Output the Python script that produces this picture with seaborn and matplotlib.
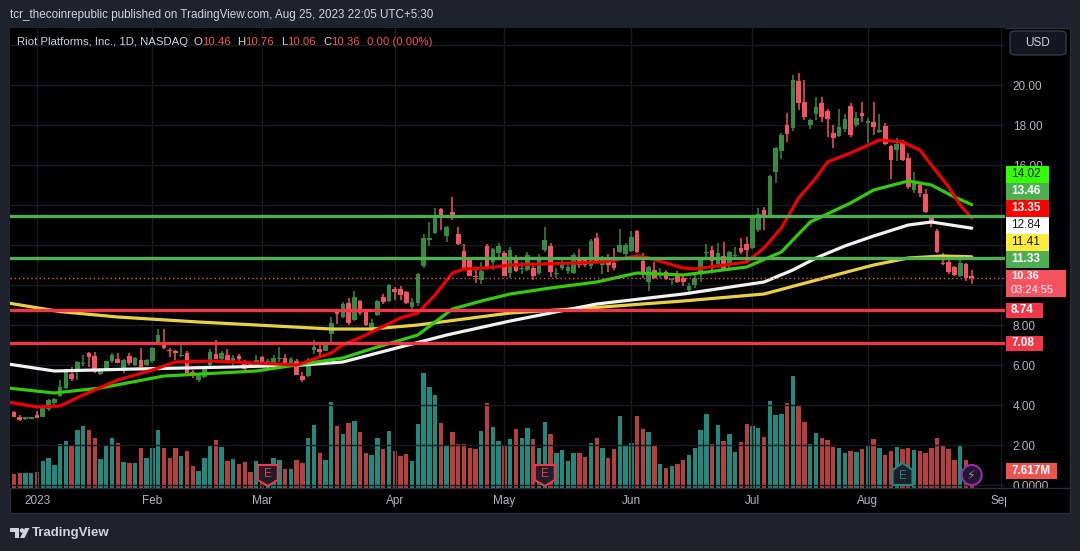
import matplotlib
matplotlib.use("Agg")
import matplotlib.pyplot as plt
from matplotlib.patches import Rectangle, Polygon, Ellipse, FancyBboxPatch
from matplotlib.lines import Line2D
import seaborn as sns

# =====================================================
# DATA  (x = trading day index, 0 = Jan 3 2023)
# =====================================================

idx = list(range(-5, 163))

opens = [3.83, 3.67, 3.42, 3.30, 3.32,
         # Jan
         3.50, 3.42, 3.78, 4.08, 4.47, 4.83, 5.53, 5.67, 6.05, 6.58,
         6.45, 5.55, 5.75, 6.22, 6.28, 5.75, 6.45, 6.00, 6.25, 6.00,
         # Feb
         6.22, 7.12, 7.10, 6.72, 6.70, 6.45, 6.62, 5.63, 5.25, 5.38,
         6.00, 6.55, 6.28, 6.50, 6.17, 6.45, 6.17, 6.02, 5.98,
         # Mar
         6.38, 5.95, 5.97, 6.30, 6.33, 6.10, 6.20, 5.45, 5.45, 6.75,
         6.80, 6.72, 7.55, 8.60, 8.40, 9.08, 8.25, 9.20, 8.75, 7.87,
         8.50, 9.40, 9.20,
         # Apr
         9.80, 9.80, 9.67, 8.92, 9.08, 10.95, 12.25, 12.62, 13.80, 12.47,
         13.63, 12.53, 11.70, 11.30, 10.47, 10.25, 11.95, 11.17, 11.58,
         # May
         11.60, 10.58, 11.37, 10.80, 10.75, 10.87, 10.58, 11.75, 11.95, 10.55,
         10.83, 10.70, 10.62, 11.25, 11.25, 10.97, 12.37, 11.00, 11.33, 11.08,
         11.67, 11.53,
         # Jun
         11.70, 12.70, 11.20, 10.13, 10.75, 10.48, 10.67, 10.23, 10.53, 10.33,
         9.75, 10.00, 10.53, 11.60, 11.75, 11.03, 11.45, 11.00, 11.45, 11.87,
         12.05,
         # Jul
         11.87, 12.75, 13.75, 13.42, 15.67, 16.70, 18.00, 17.83, 20.20, 19.13,
         18.00, 18.55, 19.08, 18.70, 17.58, 17.47, 17.80, 18.95, 18.00, 18.62,
         # Aug
         18.08, 18.15, 17.67, 17.95, 16.95, 16.75, 17.20, 16.33, 14.75, 15.00,
         14.55, 13.38, 12.72, 11.08, 11.13, 10.88, 10.45, 11.05, 10.46]

highs = [3.88, 3.70, 3.50, 3.42, 3.40,
         3.72, 3.90, 4.30, 4.33, 5.25, 5.80, 5.88, 6.20, 6.50, 6.65,
         6.63, 5.85, 6.20, 6.58, 6.58, 6.30, 6.58, 6.38, 6.85, 6.30,
         6.88, 7.80, 7.78, 6.83, 6.75, 7.03, 6.68, 5.75, 5.55, 5.92,
         6.80, 7.25, 6.70, 6.80, 6.50, 6.55, 6.25, 6.08, 6.50,
         6.45, 6.28, 6.50, 6.88, 6.55, 6.40, 6.30, 5.63, 6.35, 7.25,
         7.08, 7.17, 8.42, 8.80, 9.17, 9.37, 9.70, 9.25, 8.80, 8.30,
         9.25, 9.53, 10.07,
         9.92, 9.95, 9.72, 9.33, 10.62, 12.53, 13.17, 13.87, 13.83, 12.95,
         14.40, 12.92, 12.03, 11.35, 10.78, 11.13, 12.03, 11.85, 12.08,
         11.70, 11.92, 11.50, 11.17, 11.63, 10.95, 11.53, 12.88, 12.08, 10.87,
         11.33, 11.03, 11.58, 11.80, 11.37, 12.30, 12.58, 11.47, 11.53, 11.87,
         12.80, 12.10,
         12.72, 12.75, 11.58, 10.97, 11.17, 10.83, 10.75, 10.33, 10.70, 10.50,
         10.08, 10.50, 11.30, 12.03, 11.95, 12.08, 12.17, 11.70, 11.92, 12.37,
         12.42,
         13.40, 13.83, 13.90, 15.50, 16.90, 17.62, 18.58, 20.50, 20.58, 20.25,
         18.30, 19.38, 19.42, 18.80, 18.00, 18.80, 18.55, 19.08, 18.67, 19.13,
         18.33, 19.13, 18.55, 18.08, 17.00, 17.33, 17.25, 16.58, 15.67, 15.08,
         14.80, 13.50, 12.80, 11.62, 11.25, 10.97, 11.28, 11.10, 10.76]

lows = [3.62, 3.40, 3.22, 3.27, 3.28,
        3.33, 3.40, 3.72, 4.00, 4.40, 4.80, 5.20, 5.25, 5.95, 5.92,
        5.60, 5.50, 5.70, 6.08, 6.10, 5.62, 6.00, 5.95, 5.90, 5.95,
        6.08, 7.00, 6.80, 6.40, 6.25, 6.40, 5.60, 5.33, 5.17, 5.35,
        5.95, 6.28, 6.17, 6.15, 5.95, 6.17, 5.75, 5.92, 5.92,
        6.05, 5.83, 5.85, 6.17, 6.08, 6.05, 5.48, 5.17, 5.38, 6.55,
        6.33, 6.68, 7.17, 8.07, 8.33, 8.00, 8.22, 8.50, 7.97, 7.67,
        8.45, 9.03, 9.17,
        9.25, 9.25, 9.03, 8.80, 8.97, 10.83, 11.97, 12.55, 12.75, 12.13,
        13.25, 12.00, 10.85, 10.45, 10.12, 10.03, 10.80, 10.75, 11.33,
        10.45, 10.33, 10.63, 10.53, 10.70, 10.25, 10.50, 11.67, 10.42, 10.33,
        10.75, 10.53, 10.55, 10.83, 10.92, 10.80, 11.10, 10.53, 10.67, 10.75,
        11.60, 11.33,
        11.65, 11.60, 10.33, 9.72, 10.30, 10.33, 10.25, 10.00, 10.10, 9.97,
        9.50, 9.83, 10.17, 11.42, 10.75, 10.83, 10.70, 10.87, 11.25, 11.53,
        11.20,
        11.80, 12.67, 12.75, 13.35, 15.12, 16.30, 17.17, 17.70, 18.75, 18.25,
        17.80, 18.25, 18.17, 17.42, 16.83, 17.40, 17.67, 17.40, 17.88, 18.17,
        17.08, 17.50, 17.60, 17.00, 15.28, 16.22, 16.20, 14.78, 14.62, 14.38,
        13.60, 12.92, 11.60, 11.00, 10.55, 10.45, 10.40, 10.22, 10.06]

closes = [3.67, 3.42, 3.27, 3.38, 3.37,
          3.37, 3.88, 4.25, 4.28, 4.92, 5.67, 5.28, 6.13, 6.10, 6.38,
          5.67, 5.78, 6.18, 6.50, 6.12, 6.25, 6.12, 6.33, 5.92, 6.25,
          6.83, 7.50, 6.83, 6.68, 6.58, 6.48, 5.62, 5.45, 5.45, 5.88,
          6.67, 6.30, 6.58, 6.17, 6.35, 6.28, 5.78, 5.98, 6.25,
          6.08, 6.22, 6.33, 6.33, 6.12, 6.30, 5.50, 5.25, 6.25, 6.92,
          6.65, 7.05, 8.12, 8.57, 9.05, 8.08, 9.42, 8.58, 8.00, 8.12,
          9.20, 9.13, 10.00,
          9.63, 9.50, 9.08, 9.17, 10.53, 12.37, 12.37, 13.50, 13.42, 12.92,
          13.42, 12.05, 10.87, 10.47, 10.38, 10.70, 10.87, 11.80, 11.95,
          10.47, 11.75, 10.70, 10.85, 11.50, 10.45, 11.42, 12.25, 10.67, 10.60,
          11.03, 10.88, 11.50, 11.00, 11.00, 12.20, 11.20, 11.37, 11.00, 10.87,
          12.00, 12.00,
          12.38, 11.67, 10.63, 10.88, 10.37, 10.52, 10.30, 10.27, 10.15, 10.13,
          9.97, 10.37, 11.25, 11.65, 11.20, 11.58, 10.72, 11.63, 11.50, 11.63,
          11.75,
          13.37, 13.53, 13.42, 15.45, 16.87, 17.50, 17.55, 20.25, 19.08, 18.42,
          18.25, 18.88, 18.42, 18.30, 17.37, 17.92, 18.30, 17.50, 18.33, 18.45,
          18.20, 17.92, 17.75, 17.05, 16.25, 17.05, 16.25, 14.92, 15.22, 14.62,
          13.67, 13.08, 11.67, 11.03, 10.67, 10.50, 11.08, 10.33, 10.36]

# volume in millions of shares
volume_m = [5.8, 7.2, 7.7, 7.7, 7.7,
            8.2, 13.7, 15.0, 11.7, 22.0, 23.7, 20.8, 29.2, 31.2, 29.2,
            25.2, 14.7, 21.2, 25.2, 22.7, 13.2, 12.7, 12.7, 20.2, 15.2,
            20.2, 29.2, 20.2, 15.2, 20.2, 16.2, 18.7, 11.2, 8.7, 15.2,
            21.7, 24.2, 20.7, 13.7, 14.7, 12.2, 13.2, 8.2, 13.7,
            8.3, 9.2, 15.2, 14.2, 9.7, 9.7, 14.2, 12.7, 25.2, 31.7,
            17.7, 14.2, 43.2, 31.2, 27.2, 32.7, 33.7, 28.2, 17.7, 16.7,
            25.2, 19.7, 28.7,
            18.7, 16.2, 17.2, 13.7, 32.2, 57.7, 50.7, 46.7, 32.7, 21.2,
            28.2, 22.2, 22.2, 20.2, 19.7, 28.7, 42.7, 30.7, 23.7,
            20.8, 24.7, 29.7, 25.2, 30.2, 24.7, 20.2, 33.2, 27.2, 17.7,
            19.2, 13.7, 17.7, 17.7, 15.7, 22.7, 25.2, 20.2, 15.2, 19.7,
            36.2, 21.2,
            22.7, 36.2, 29.7, 28.2, 21.2, 12.2, 10.2, 11.2, 12.2, 14.2,
            16.7, 20.2, 29.2, 37.2, 22.2, 31.7, 23.7, 27.2, 18.2, 23.2,
            32.2,
            31.2, 30.2, 25.7, 43.7, 36.7, 37.2, 42.7, 56.2, 41.2, 33.2,
            22.2, 27.7, 25.2, 24.2, 20.7, 20.2, 17.7, 18.7, 18.2, 19.7,
            21.2, 24.7, 20.2, 16.7, 18.7, 20.7, 19.7, 20.2, 19.2, 18.7,
            17.7, 20.2, 25.2, 21.7, 19.7, 14.2, 21.2, 14.2, 0.8]

# moving averages
red_idx = [-5, 0, 4, 8, 14, 20, 24, 30, 38, 45, 51, 53, 57, 63, 66, 69, 72, 74, 78,
           82, 87, 93, 98, 104, 106, 112, 114, 123, 126, 129, 132, 135, 137, 141,
           146, 150, 153, 155, 158, 160, 162]
red_val = [4.15, 3.9, 3.95, 4.5, 5.25, 5.75, 6.15, 6.2, 6.1, 6.0, 6.6, 7.0, 7.5, 8.35,
           8.6, 9.5, 10.6, 10.8, 10.85, 11.0, 11.05, 11.1, 11.15, 11.45, 11.35, 10.85,
           10.8, 11.15, 11.85, 12.85, 14.35, 15.35, 16.15, 16.6, 17.25, 17.15, 16.75,
           16.0, 14.9, 14.0, 13.35]

green_idx = [-5, 3, 11, 22, 38, 53, 59, 66, 72, 77, 82, 89, 97, 104, 112, 123, 129,
             134, 141, 145, 151, 155, 159, 162]
green_val = [4.85, 4.6, 4.85, 5.45, 5.7, 6.35, 6.9, 7.5, 8.8, 9.2, 9.55, 9.85, 10.15,
             10.6, 10.5, 10.9, 11.65, 13.15, 14.1, 14.75, 15.2, 15.0, 14.4, 14.02]

white_idx = [-5, 3, 17, 34, 46, 53, 61, 71, 82, 89, 97, 112, 126, 131, 135, 140, 145,
             151, 155, 162]
white_val = [6.05, 5.7, 5.8, 5.9, 6.0, 6.15, 6.75, 7.5, 8.2, 8.6, 9.05, 9.55, 10.15,
             10.75, 11.35, 11.95, 12.45, 13.0, 13.15, 12.84]

yellow_idx = [-5, 4, 14, 28, 38, 51, 58, 66, 82, 98, 112, 126, 141, 145, 151, 157, 162]
yellow_val = [9.1, 8.67, 8.4, 8.15, 8.0, 7.8, 7.8, 8.0, 8.6, 8.9, 9.2, 9.55, 10.7, 11.0,
              11.35, 11.45, 11.41]

green_levels = [13.46, 11.33]
red_levels = [8.74, 7.08]

month_pos = [0, 20, 39, 62, 81, 103, 124, 144, 167]
month_labels = ["2023", "Feb", "Mar", "Apr", "May", "Jun", "Jul", "Aug", "Sep"]

# 10, 12 and 14 sit under the indicator labels, so they carry no text
price_ticks = [0, 2, 4, 6, 8, 10, 12, 14, 16, 18, 20, 22]
price_labels = ["0.0000", "2.00", "4.00", "6.00", "8.00", "", "", "",
                "16.00", "18.00", "20.00", ""]

earnings_idx = [40, 88, 150]
split_idx = 162

# =====================================================
# STYLE
# =====================================================

FRAME = "#1e222d"
UP = "#348c40"
DOWN = "#f7525f"
VOL_UP = "#22897e"
VOL_DOWN = "#b5403e"
TXT = "#b2b5be"

sns.set_theme(style="dark", rc={
    "axes.facecolor": "black",
    "figure.facecolor": FRAME,
    "grid.color": "#181b22",
    "grid.linewidth": 1.0,
})
plt.rcParams["font.family"] = ["Liberation Sans", "DejaVu Sans"]

W, H = 1080, 551


def fx(px):
    return px / W


def fy(py):
    return 1 - py / H


fig = plt.figure(figsize=(10.8, 5.51), dpi=100)

# black chart panel
fig.add_artist(Rectangle((fx(10), fy(513)), fx(1070) - fx(10), fy(28) - fy(513),
                         transform=fig.transFigure, facecolor="black",
                         edgecolor="#2a2e39", lw=1, zorder=-1))

axv = fig.add_axes([fx(10), fy(488), fx(1005) - fx(10), fy(28) - fy(488)])
ax = fig.add_axes([fx(10), fy(488), fx(1005) - fx(10), fy(28) - fy(488)], sharex=axv)
ax.patch.set_visible(False)
axv.set_facecolor("black")

# =====================================================
# VOLUME
# =====================================================

vol_colors = [VOL_UP if c >= o else VOL_DOWN for o, c in zip(opens, closes)]
axv.bar(idx, volume_m, width=0.76, color=vol_colors, linewidth=0)
axv.set_ylim(0, 230)
axv.set_yticks([])
axv.tick_params(axis="x", length=0, labelbottom=False)
for s in axv.spines.values():
    s.set_visible(False)

# =====================================================
# CANDLES
# =====================================================

cc = [UP if c >= o else DOWN for o, c in zip(opens, closes)]
body_lo = [min(o, c) for o, c in zip(opens, closes)]
body_h = [max(abs(c - o), 0.06) for o, c in zip(opens, closes)]
ax.vlines(idx, lows, highs, colors=cc, lw=1.1, zorder=3)
ax.bar(idx, body_h, bottom=body_lo, width=0.8, color=cc, linewidth=0, zorder=3)

# moving averages
sns.lineplot(x=yellow_idx, y=yellow_val, ax=ax, color="#e8d33f", lw=2.3, zorder=4)
sns.lineplot(x=white_idx, y=white_val, ax=ax, color="#f2f2f2", lw=2.3, zorder=4)
sns.lineplot(x=green_idx, y=green_val, ax=ax, color="#33cc0a", lw=2.3, zorder=4)
sns.lineplot(x=red_idx, y=red_val, ax=ax, color="#f00000", lw=2.3, zorder=4)

# support / resistance lines
for lv in green_levels:
    ax.axhline(lv, color="#4caf50", lw=2.4, zorder=5)
for lv in red_levels:
    ax.axhline(lv, color="#f23645", lw=2.4, zorder=5)
ax.axhline(closes[-1], color=DOWN, lw=1, ls=(0, (1, 2)), zorder=5)

ax.set_xlim(-4.68, 167.76)
ax.set_ylim(-0.15, 22.85)
ax.set_xticks(month_pos)
ax.set_xticklabels(month_labels)
ax.set_yticks(price_ticks)
ax.set_yticklabels(price_labels)
ax.yaxis.tick_right()
ax.tick_params(axis="y", length=0, pad=5.5, labelsize=8.5, labelcolor=TXT)
ax.tick_params(axis="x", length=0, pad=5, labelsize=8.5, labelcolor=TXT)
ax.grid(True, axis="both")
ax.set_xlabel("")
ax.set_ylabel("")
for s in ax.spines.values():
    s.set_visible(False)

# time axis separator
fig.add_artist(Line2D([fx(10), fx(1069)], [fy(488), fy(488)], transform=fig.transFigure,
                      color="#2a2e39", lw=1, zorder=2))
# cut the Sep label at the price-axis column
fig.add_artist(Rectangle((fx(1006), fy(511)), fx(1068) - fx(1006), fy(489) - fy(511),
                         transform=fig.transFigure, facecolor="black", lw=0, zorder=3))


def price_py(p):
    return H - ax.transData.transform((0, p))[1]


def idx_px(i):
    return ax.transData.transform((i, 0))[0]


def price_box(yc, text, bg, fg, x0=1006, x1=1049, h=16, bold=True, size=8.5):
    fig.add_artist(Rectangle((fx(x0), fy(yc + h / 2)), fx(x1) - fx(x0), fy(yc - h / 2) - fy(yc + h / 2),
                             transform=fig.transFigure, facecolor=bg, lw=0, zorder=6))
    fig.text(fx(x0 + 5), fy(yc), text, color=fg, fontsize=size, va="center", ha="left",
             fontweight="bold" if bold else "normal", zorder=7)


# stacked labels on the price axis (pushed apart to avoid overlap)
stack = [("11.33", "#4caf50", "white"), ("11.41", "#ffeb3b", "#131722"),
         ("12.84", "white", "#131722"), ("13.35", "#ff0000", "white"),
         ("13.46", "#4caf50", "white"), ("14.02", "#33ff00", "#131722")]
y0 = price_py(green_levels[1]) + 1
for k, (t, bg, fg) in enumerate(stack):
    price_box(y0 - 17 * k, t, bg, fg, h=17, bold=(fg == "white"))

price_box(price_py(red_levels[0]), "8.74", "#f23645", "white", x1=1043, h=15)
price_box(price_py(red_levels[1]), "7.08", "#f23645", "white", x1=1043, h=15)

# last price + countdown
yl = price_py(closes[-1])
fig.add_artist(Rectangle((fx(1006), fy(yl + 19)), fx(1066) - fx(1006), fy(yl - 8) - fy(yl + 19),
                         transform=fig.transFigure, facecolor=DOWN, lw=0, zorder=6))
fig.text(fx(1011), fy(yl - 1.5), f"{closes[-1]:.2f}", color="white", fontsize=8,
         fontweight="bold", va="center", zorder=7)
fig.text(fx(1011), fy(yl + 12), "03:24:55", color="white", fontsize=8, va="center", zorder=7)

price_box(471, "7.617M", "#ef5350", "white", x1=1057, h=16)

# USD button
fig.add_artist(FancyBboxPatch((fx(1010), fy(55)), fx(1066) - fx(1010), fy(31) - fy(55),
                              boxstyle="round,pad=0,rounding_size=0.006", transform=fig.transFigure,
                              facecolor="#131722", edgecolor="#363a45", lw=1, zorder=6))
fig.text(fx(1038), fy(43), "USD", color="#d1d4dc", fontsize=8.5, ha="center", va="center", zorder=7)

# event markers on the volume pane
for k, i in enumerate(earnings_idx):
    cx = idx_px(i)
    if k < 2:
        pts = [(cx - 10, 465), (cx + 10, 465), (cx + 10, 480), (cx, 486), (cx - 10, 480)]
        col = "#f23645"
        ty = 474
    else:
        pts = [(cx - 10, 485), (cx + 10, 485), (cx + 10, 470), (cx, 463), (cx - 10, 470)]
        col = "#1f8a7a"
        ty = 476
    fig.add_artist(Polygon([(fx(a), fy(b)) for a, b in pts], closed=True, transform=fig.transFigure,
                           facecolor="#1c1f2b", edgecolor=col, lw=1.5, zorder=6))
    fig.text(fx(cx), fy(ty), "E", color=col, fontsize=8.5, ha="center", va="center", zorder=7)

cx = idx_px(split_idx)
fig.add_artist(Ellipse((fx(cx), fy(475)), 20 / W, 20 / H, transform=fig.transFigure,
                       facecolor="#1f1a2c", edgecolor="#9c27b0", lw=1.5, zorder=6))
fig.text(fx(cx), fy(475), "\u26a1", color="#ba68c8", fontsize=9, ha="center", va="center",
         family=["DejaVu Sans"], zorder=7)

# =====================================================
# HEADER / FOOTER TEXT
# =====================================================

fig.text(fx(10), fy(15), "tcr_thecoinrepublic published on TradingView.com, Aug 25, 2023 22:05 UTC+5:30",
         color="#d1d4dc", fontsize=8.4, va="center")

renderer = fig.canvas.get_renderer()
pieces = [("Riot Platforms, Inc., 1D, NASDAQ", "#d1d4dc", 5),
          ("O", "#d1d4dc", 0), (f"{opens[-1]:.2f}", DOWN, 7),
          ("H", "#d1d4dc", 0), (f"{highs[-1]:.2f}", DOWN, 7),
          ("L", "#d1d4dc", 0), (f"{lows[-1]:.2f}", DOWN, 7),
          ("C", "#d1d4dc", 0), (f"{closes[-1]:.2f}", DOWN, 7),
          ("0.00 (0.00%)", DOWN, 0)]
xp = 17
for s, c, gap in pieces:
    t = fig.text(fx(xp), fy(42), s, color=c, fontsize=8.2, va="center", ha="left", zorder=7)
    xp += t.get_window_extent(renderer=renderer).width + gap

# TradingView logo
fig.add_artist(Polygon([(fx(a), fy(b)) for a, b in [(10, 528), (19, 528), (19, 538), (15, 538), (15, 532), (10, 532)]],
                       transform=fig.transFigure, facecolor="#d1d4dc", lw=0))
fig.add_artist(Ellipse((fx(22), fy(530.5)), 4.5 / W, 4.5 / H, transform=fig.transFigure,
                       facecolor="#d1d4dc", lw=0))
fig.add_artist(Polygon([(fx(a), fy(b)) for a, b in [(25, 528), (29.5, 528), (24.5, 538), (20, 538)]],
                       transform=fig.transFigure, facecolor="#d1d4dc", lw=0))
fig.text(fx(32), fy(533), "TradingView", color="#d1d4dc", fontsize=9.5, fontweight="bold", va="center")

fig.savefig("out.png", dpi=100, facecolor=FRAME)
